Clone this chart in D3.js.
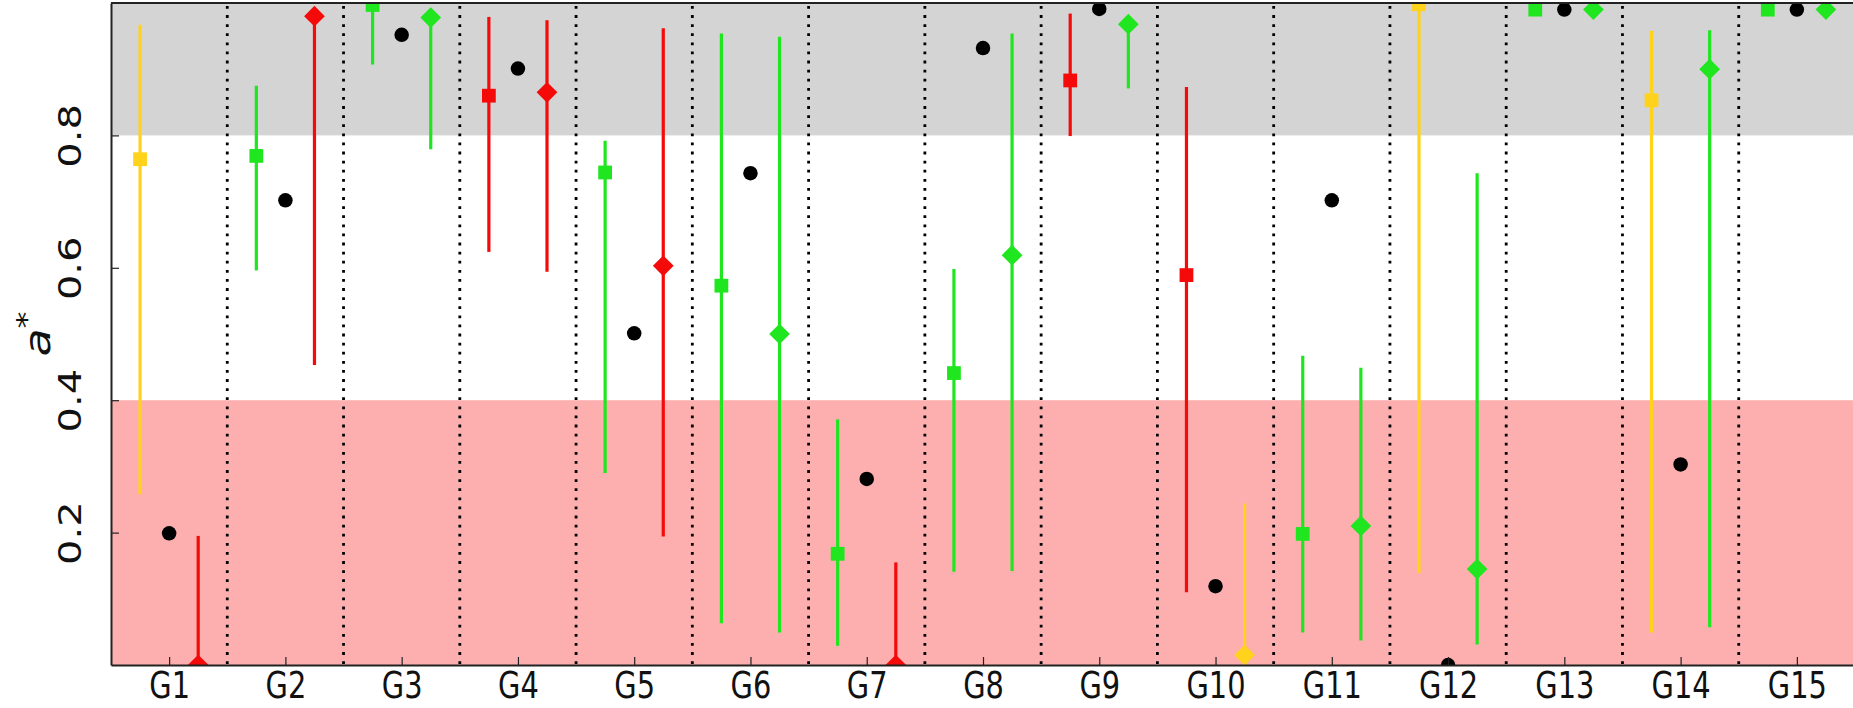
<!DOCTYPE html>
<html>
<head>
<meta charset="utf-8">
<script src="https://cdn.jsdelivr.net/npm/d3@7"></script>
<style>
  html, body { margin: 0; padding: 0; background: #fff; overflow: hidden; }
  svg { display: block; }
  text { font-family: "DejaVu Sans", sans-serif; fill: #111; }
</style>
</head>
<body>
<svg id="chart" width="1853" height="708"></svg>
<script>
// ---- data ---------------------------------------------------------------
const groups = ["G1","G2","G3","G4","G5","G6","G7","G8","G9","G10","G11","G12","G13","G14","G15"];

// left estimate (square marker) with its interval
const squareVal = [0.764, 0.769, 0.997, 0.860, 0.744, 0.573, 0.168, 0.441, 0.883, 0.589, 0.198, 0.998, 0.990, 0.853, 0.990];
const squareLo  = [0.258, 0.596, 0.907, 0.624, 0.290, 0.063, 0.029, 0.141, 0.799, 0.110, 0.049, 0.139, 0.990, 0.049, 0.990];
const squareHi  = [0.967, 0.875, 1.000, 0.979, 0.792, 0.954, 0.371, 0.598, 0.984, 0.873, 0.467, 1.000, 0.990, 0.958, 0.990];
const squareCls = ["gold","green","green","red","green","green","green","green","red","red","green","gold","green","gold","green"];

// reference value (black dot)
const dotVal = [0.199, 0.702, 0.952, 0.901, 0.501, 0.743, 0.281, 0.932, 0.991, 0.119, 0.702, 0.000, 0.990, 0.303, 0.990];

// right estimate (diamond marker) with its interval
const diamondVal = [0.000, 0.980, 0.978, 0.865, 0.603, 0.500, 0.000, 0.619, 0.968, 0.015, 0.210, 0.145, 0.990, 0.900, 0.990];
const diamondLo  = [0.000, 0.453, 0.779, 0.594, 0.194, 0.049, 0.000, 0.142, 0.871, 0.000, 0.037, 0.031, 0.990, 0.057, 0.990];
const diamondHi  = [0.195, 0.985, 0.990, 0.974, 0.962, 0.949, 0.155, 0.954, 0.975, 0.244, 0.449, 0.743, 0.990, 0.959, 0.990];
const diamondCls = ["red","red","green","red","red","green","red","green","green","gold","green","green","green","green","green"];

// shaded ranges of a*
const lowBand  = [0.0, 0.4];
const highBand = [0.8, 1.0];

const yTicks = [0.2, 0.4, 0.6, 0.8];

// ---- setup --------------------------------------------------------------
const palette = { gold: "#FFD21C", green: "#1FE61F", red: "#F50A0A" };
const narrow = 0.78;   // horizontal squeeze of the lettering

const svg = d3.select("#chart");
const plot = { left: 111, right: 1855, top: 3, bottom: 665 };

const x = d3.scaleLinear().domain([0.5, groups.length + 0.5]).range([plot.left, plot.right]);
const y = d3.scaleLinear().domain([0, 1]).range([plot.bottom, plot.top]);
const offset = 0.25;

svg.append("defs").append("clipPath").attr("id", "plot-clip")
  .append("rect")
  .attr("x", plot.left).attr("y", plot.top)
  .attr("width", plot.right - plot.left).attr("height", plot.bottom - plot.top);

const area = svg.append("g").attr("clip-path", "url(#plot-clip)");

// background bands
[[lowBand, "#FDAFAF"], [highBand, "#D4D4D4"]].forEach(([b, fill]) => {
  area.append("rect")
    .attr("x", plot.left).attr("width", plot.right - plot.left)
    .attr("y", y(b[1])).attr("height", y(b[0]) - y(b[1]))
    .attr("fill", fill);
});

// dotted separators between groups
area.selectAll("line.sep")
  .data(d3.range(1, groups.length))
  .join("line")
  .attr("class", "sep")
  .attr("x1", d => x(d + 0.5)).attr("x2", d => x(d + 0.5))
  .attr("y1", plot.top + 3).attr("y2", plot.bottom)
  .attr("stroke", "#000").attr("stroke-width", 2.8)
  .attr("stroke-dasharray", "2.8,6.3");

// error bars
const idx = d3.range(groups.length);
area.selectAll("line.errSq")
  .data(idx)
  .join("line")
  .attr("class", "errSq")
  .attr("x1", i => x(i + 1 - offset)).attr("x2", i => x(i + 1 - offset))
  .attr("y1", i => y(squareLo[i])).attr("y2", i => y(squareHi[i]))
  .attr("stroke", i => palette[squareCls[i]]).attr("stroke-width", 3.2);

area.selectAll("line.errDi")
  .data(idx)
  .join("line")
  .attr("class", "errDi")
  .attr("x1", i => x(i + 1 + offset)).attr("x2", i => x(i + 1 + offset))
  .attr("y1", i => y(diamondLo[i])).attr("y2", i => y(diamondHi[i]))
  .attr("stroke", i => palette[diamondCls[i]]).attr("stroke-width", 3.2);

// markers
const squareSym = d3.symbol(d3.symbolSquare, 190)();
const diamondSym = d3.symbol(d3.symbolSquare, 215)();
const circleSym = d3.symbol(d3.symbolCircle, 165)();

area.selectAll("path.sq")
  .data(idx)
  .join("path")
  .attr("class", "sq")
  .attr("d", squareSym)
  .attr("transform", i => `translate(${x(i + 1 - offset)},${y(squareVal[i])})`)
  .attr("fill", i => palette[squareCls[i]]);

area.selectAll("path.dot")
  .data(idx)
  .join("path")
  .attr("class", "dot")
  .attr("d", circleSym)
  .attr("transform", i => `translate(${x(i + 1)},${y(dotVal[i])})`)
  .attr("fill", "#000");

area.selectAll("path.di")
  .data(idx)
  .join("path")
  .attr("class", "di")
  .attr("d", diamondSym)
  .attr("transform", i => `translate(${x(i + 1 + offset)},${y(diamondVal[i])}) rotate(45)`)
  .attr("fill", i => palette[diamondCls[i]]);

// ---- axes ---------------------------------------------------------------
const xAxis = svg.append("g")
  .attr("transform", `translate(0,${plot.bottom})`)
  .call(d3.axisBottom(x)
    .tickValues(d3.range(1, groups.length + 1))
    .tickFormat(d => groups[d - 1])
    .tickSizeInner(-8).tickSizeOuter(0));
xAxis.select(".domain").attr("stroke", "#222").attr("stroke-width", 2);
xAxis.selectAll(".tick line").attr("stroke", "#222").attr("stroke-width", 1.2);
xAxis.selectAll(".tick text")
  .attr("font-size", 37)
  .attr("font-family", "DejaVu Sans")
  .attr("fill", "#111")
  .attr("dy", null)
  .attr("y", null)
  .attr("transform", `translate(0,33) scale(${narrow},1)`);

const yAxis = svg.append("g")
  .attr("transform", `translate(${plot.left},0)`)
  .call(d3.axisLeft(y)
    .tickValues(yTicks)
    .tickFormat(d3.format(".1f"))
    .tickSizeInner(-8).tickSizeOuter(0));
yAxis.select(".domain").attr("stroke", "#222").attr("stroke-width", 2);
yAxis.selectAll(".tick line").attr("stroke", "#222").attr("stroke-width", 1.2);
yAxis.selectAll(".tick text")
  .attr("font-size", 40)
  .attr("font-family", "DejaVu Sans")
  .attr("fill", "#111")
  .attr("x", null).attr("dy", null)
  .attr("text-anchor", "middle")
  .attr("transform", `translate(-30,0) scale(${narrow},1) rotate(-90)`);

// top spine
svg.append("line")
  .attr("x1", plot.left).attr("x2", plot.right)
  .attr("y1", plot.top).attr("y2", plot.top)
  .attr("stroke", "#222").attr("stroke-width", 2);

// y-axis title: a*
const yTitle = svg.append("text")
  .attr("text-anchor", "middle")
  .attr("font-size", 46)
  .attr("transform", `translate(50,${(plot.top + plot.bottom) / 2}) scale(${narrow},1) rotate(-90)`);
yTitle.append("tspan").attr("font-style", "italic").text("a");
yTitle.append("tspan").attr("dy", -18).attr("font-size", 34).text("*");
</script>
</body>
</html>
